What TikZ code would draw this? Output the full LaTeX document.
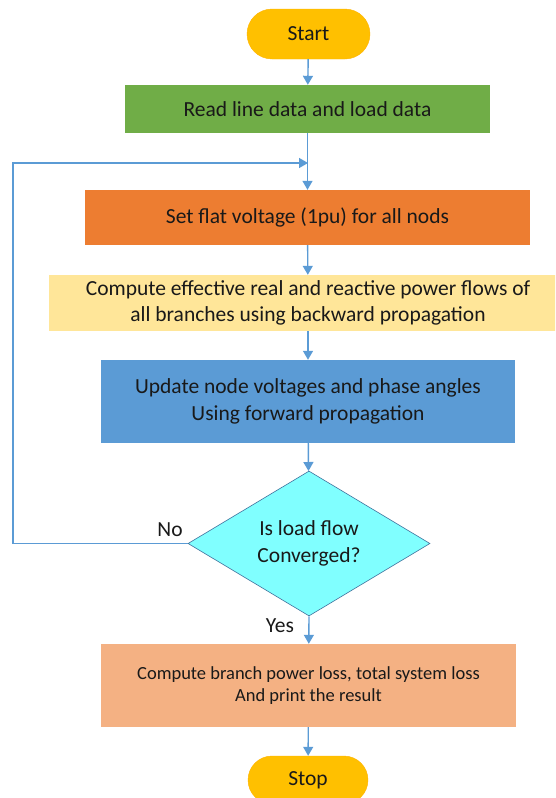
\documentclass[tikz,border=0pt]{standalone}
\usepackage{fontspec}
\setmainfont{Carlito}
\usetikzlibrary{shapes.geometric,shapes.misc,arrows.meta}
\definecolor{cstart}{HTML}{FFC000}
\definecolor{cgreen}{HTML}{70AD47}
\definecolor{corange}{HTML}{ED7D31}
\definecolor{cyellow}{HTML}{FFE699}
\definecolor{cblue}{HTML}{5B9BD5}
\definecolor{ccyan}{HTML}{80FFFF}
\definecolor{cpeach}{HTML}{F4B183}
\definecolor{cline}{HTML}{5B9BD5}
\definecolor{cdia}{HTML}{41719C}
\tikzset{
  every node/.style={font=\fontsize{21.5}{26.5}\selectfont, text=black!90, align=center, inner sep=0pt},
  term/.style={rounded rectangle, fill=cstart, draw=cstart!80!orange},
  procbox/.style={rectangle, draw=none},
  decision/.style={diamond, fill=ccyan, draw=cdia, line width=0.6pt, aspect=1.669},
  conn/.style={draw=cline, line width=1.4pt, -{Triangle[length=9pt,width=10pt]}},
  lbl/.style={font=\fontsize{21.5}{26}\selectfont}
}
\begin{document}
\begin{tikzpicture}[x=1pt,y=-1pt]
\useasboundingbox (0,0) rectangle (555,798);
\clip (0,0) rectangle (555,798);
\node[term, minimum width=123pt, minimum height=50pt] (start) at (308.5,34) {Start};
\node[procbox, fill=cgreen, minimum width=365pt, minimum height=48pt] (read) at (307.5,109) {Read line data and load data};
\node[procbox, fill=corange, minimum width=445pt, minimum height=55pt] (flat) at (307.5,217.5) {Set flat voltage (1pu) for all nods};
\node[procbox, fill=cyellow, minimum width=518pt, minimum height=56pt] (back) at (308,303) {Compute effective real and reactive power flows of\\all branches using backward propagation};
\node[procbox, fill=cblue, minimum width=414pt, minimum height=83pt] (fwd) at (308,401.5) {Update node voltages and phase angles\\Using forward propagation};
\node[decision, minimum width=242pt, minimum height=145pt] (dec) at (309,543.5) {Is load flow\\Converged?};
\node[procbox, fill=cpeach, minimum width=415pt, minimum height=83pt, font=\fontsize{18.5}{22.5}\selectfont] (loss) at (308.5,685.5) {Compute branch power loss, total system loss\\And print the result};
\node[term, minimum width=120pt, minimum height=48pt] (stop) at (308,780) {Stop};
\coordinate (J) at (308,163);
\coordinate (L) at (13,163);
\draw[conn] (start) -- (read);
\draw[conn] (read) -- (flat);
\draw[conn] (flat) -- (back);
\draw[conn] (back) -- (fwd);
\draw[conn] (fwd) -- (dec);
\draw[conn] (dec.south) -- (loss);
\draw[conn] (loss) -- (stop);
\draw[conn] (dec.west) -| (L) -- (J);
\node[lbl] (no) at (170,530) {No};
\node[lbl] (yes) at (280,626) {Yes};
\end{tikzpicture}
\end{document}
